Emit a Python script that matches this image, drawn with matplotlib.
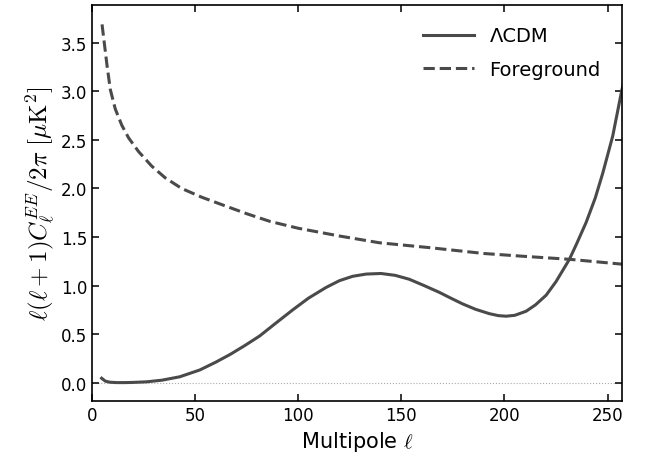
import numpy as np
import matplotlib
matplotlib.use("Agg")
import matplotlib.pyplot as plt

ell_lcdm = [4.7, 6.5, 8.7, 12, 16, 20, 26.5, 34, 42.6, 52.3, 60, 67, 74, 81.3, 89, 97.4,
            105, 113.5, 120, 126.4, 133, 140.1, 147, 153.8, 161, 168.4, 174, 179.8, 186,
            192.7, 197, 200.8, 205, 210.5, 215, 220.2, 225, 231.5, 235, 239.6, 244,
            247.7, 252.5, 256.6, 258]
cl_lcdm = [0.045, 0.015, 0.004, 0.0, 0.0, 0.002, 0.008, 0.025, 0.06, 0.13, 0.21, 0.29,
           0.38, 0.48, 0.61, 0.75, 0.87, 0.98, 1.05, 1.095, 1.118, 1.124, 1.105, 1.065,
           1.0, 0.93, 0.87, 0.81, 0.755, 0.71, 0.69, 0.684, 0.693, 0.735, 0.8, 0.9,
           1.04, 1.27, 1.43, 1.65, 1.9, 2.16, 2.54, 2.98, 3.12]

ell_fg = [4.9, 6.1, 7.3, 8.9, 11.3, 14.5, 17.8, 22.6, 29, 35.5, 43.5, 53.2, 62.1, 75,
          86.4, 100, 120, 139.5, 163.8, 190, 210, 231.6, 257]
cl_fg = [3.69, 3.48, 3.27, 3.02, 2.82, 2.65, 2.52, 2.38, 2.23, 2.11, 2.00, 1.91, 1.84,
         1.74, 1.66, 1.59, 1.51, 1.44, 1.39, 1.33, 1.30, 1.27, 1.22]

plt.rcParams["font.family"] = ["DejaVu Sans"]
plt.rcParams["mathtext.fontset"] = "cm"

fig = plt.figure(figsize=(6.52, 4.6), dpi=100)
ax = fig.add_axes([0.141, 0.126, 0.813, 0.861])

col = "#4a4a4a"
ax.axhline(0, color="#aaaaaa", lw=0.8, ls=":", zorder=1)
ax.plot(ell_lcdm, cl_lcdm, color=col, lw=2.2, label="ΛCDM", solid_joinstyle="round")
ax.plot(ell_fg, cl_fg, color=col, lw=2.2, ls="--", label="Foreground", dash_joinstyle="round")

ax.set_xlim(0, 257)
ax.set_ylim(-0.19, 3.89)
ax.set_xticks([0, 50, 100, 150, 200, 250])
ax.set_yticks([0.0, 0.5, 1.0, 1.5, 2.0, 2.5, 3.0, 3.5])
ax.tick_params(direction="in", top=True, right=True, length=5, width=1.1, labelsize=12)
for s in ax.spines.values():
    s.set_linewidth(1.2)

ax.set_xlabel(r"Multipole $\ell$", fontsize=15)
ax.set_ylabel(r"$\ell(\ell+1)C_\ell^{EE}/2\pi\ [\mu\mathrm{K}^2]$", fontsize=18, labelpad=3)

ax.legend(loc="upper right", frameon=False, fontsize=14, handlelength=2.6,
          labelspacing=0.75, borderaxespad=0.7)

fig.savefig("out.png", dpi=100)
